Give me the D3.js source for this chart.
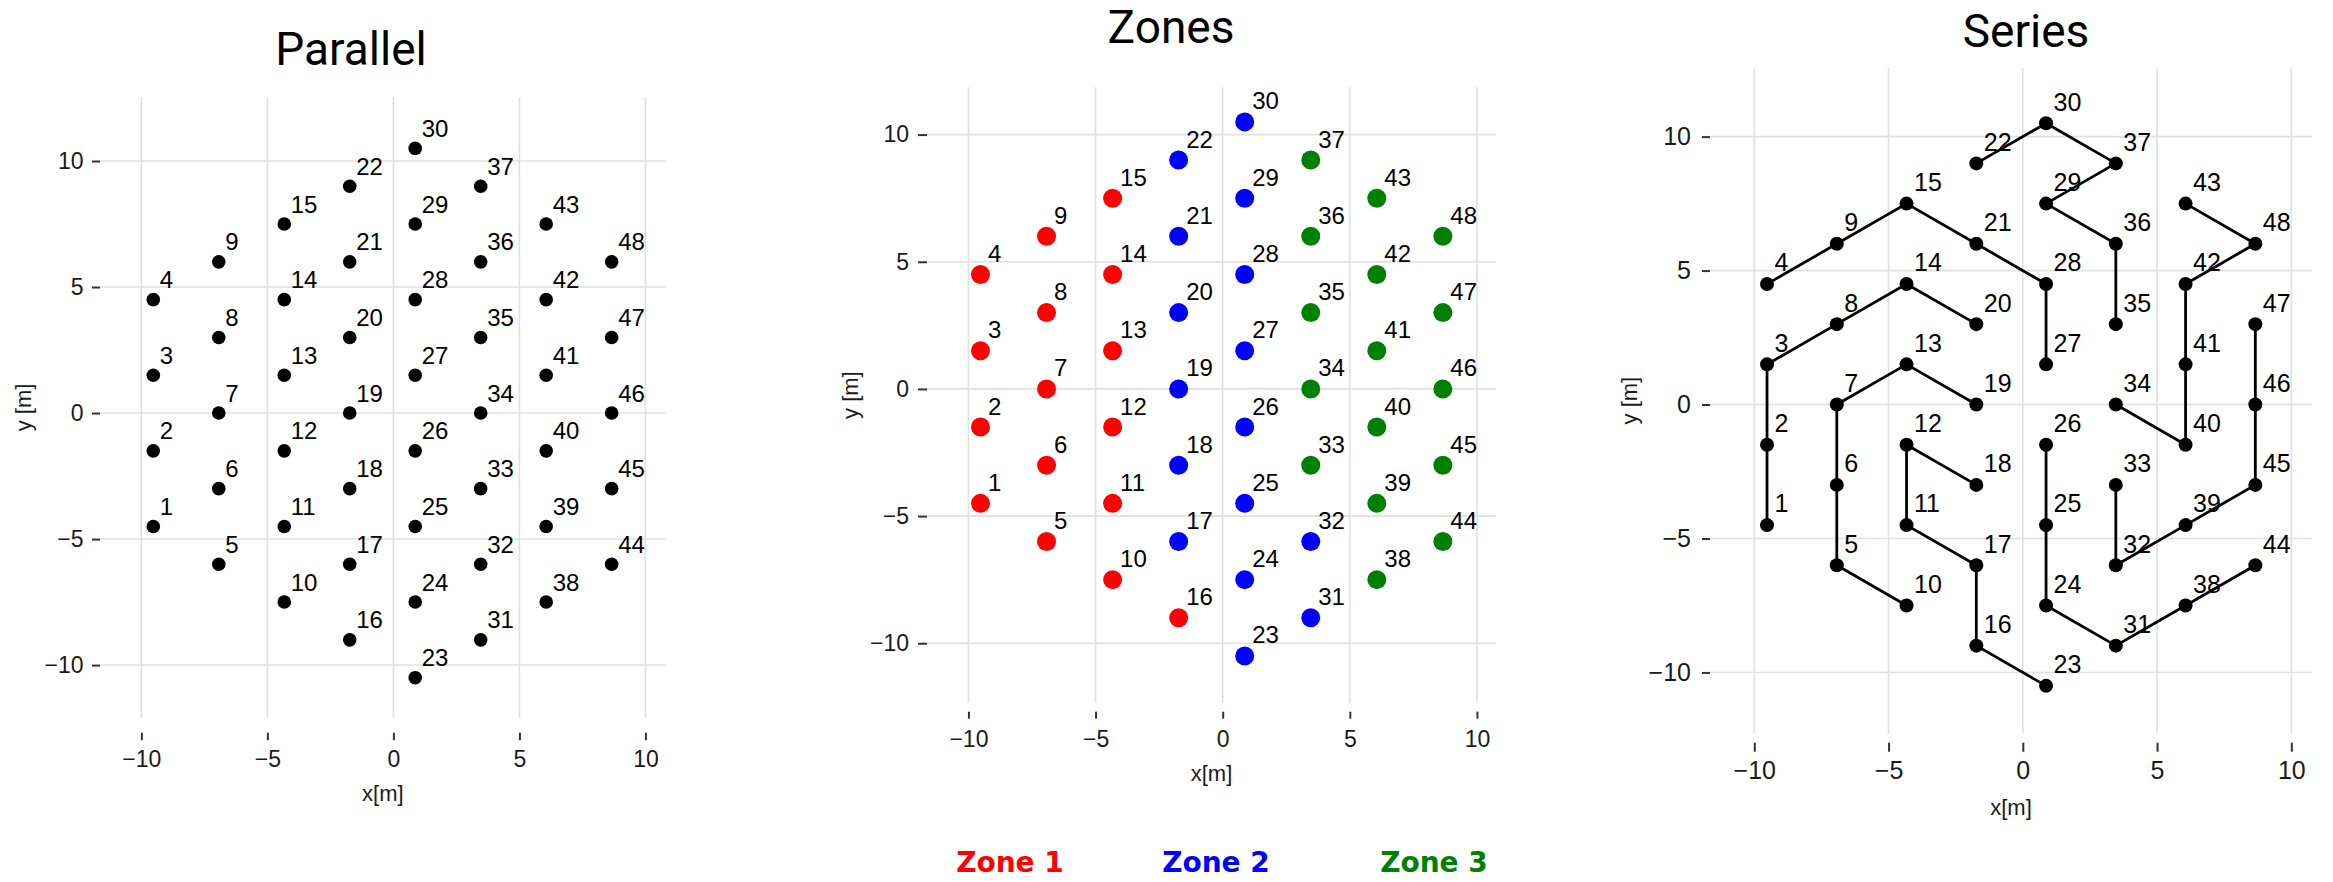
<!DOCTYPE html>
<html>
<head>
<meta charset="utf-8">
<script src="https://cdn.jsdelivr.net/npm/d3@7"></script>
<style>
  html, body { margin: 0; padding: 0; background: #fff; }
  svg { display: block; }
</style>
</head>
<body>
<svg id="chart" width="2333" height="882"></svg>
<script>
// ---------------- data ----------------
const moduleIds = [1,2,3,4,5,6,7,8,9,10,11,12,13,14,15,16,17,18,19,20,21,22,23,24,
                   25,26,27,28,29,30,31,32,33,34,35,36,37,38,39,40,41,42,43,44,45,46,47,48];
const moduleX = [
  -9.526,-9.526,-9.526,-9.526,
  -6.928,-6.928,-6.928,-6.928,-6.928,
  -4.330,-4.330,-4.330,-4.330,-4.330,-4.330,
  -1.732,-1.732,-1.732,-1.732,-1.732,-1.732,-1.732,
  0.866,0.866,0.866,0.866,0.866,0.866,0.866,0.866,
  3.464,3.464,3.464,3.464,3.464,3.464,3.464,
  6.062,6.062,6.062,6.062,6.062,6.062,
  8.660,8.660,8.660,8.660,8.660
];
const moduleY = [
  -4.5,-1.5,1.5,4.5,
  -6,-3,0,3,6,
  -7.5,-4.5,-1.5,1.5,4.5,7.5,
  -9,-6,-3,0,3,6,9,
  -10.5,-7.5,-4.5,-1.5,1.5,4.5,7.5,10.5,
  -9,-6,-3,0,3,6,9,
  -7.5,-4.5,-1.5,1.5,4.5,7.5,
  -6,-3,0,3,6
];
const moduleZone = [
  1,1,1,1,1,1,1,1,1,1,1,1,1,1,1,1,
  2,2,2,2,2,2,2,2,2,2,2,2,2,2,2,2,
  3,3,3,3,3,3,3,3,3,3,3,3,3,3,3,3
];
const seriesStrings = [
  [1,2,3,8,14,20],
  [4,9,15,21,28,27],
  [10,5,6,7,13,19],
  [23,16,17,11,12,18],
  [22,30,37,29,36,35],
  [44,38,31,24,25,26],
  [33,32,39,45,46,47],
  [34,40,41,42,48,43]
];
const zoneNames = ["Zone 1","Zone 2","Zone 3"];
const panelTitles = ["Parallel","Zones","Series"];
const tickValues = [-10,-5,0,5,10];
const xAxisTitle = "x[m]";
const yAxisTitle = "y [m]";

// ---------------- styles / layout ----------------
const zoneColors = {1:"#ff0000", 2:"#0000ff", 3:"#008000"};
const points = moduleIds.map((id,i)=>({id, x:moduleX[i], y:moduleY[i], zone:moduleZone[i]}));
const byId = new Map(points.map(p=>[p.id,p]));

const panels = [
  {title:panelTitles[0], mode:"parallel",
   xDom:[-11.64,10.8], xR:[100,665.6], yDom:[-12.1,12.54], yR:[718,97],
   r:6.8, tickFont:23, labFont:24, titleX:351, titleY:65,
   xGap:14.7, xTick:7.5, xPad:10, yTick:8, yPad:8.5,
   xTitleY:801, yTitleX:23, dx:6.5, dy:-11.5},
  {title:panelTitles[1], mode:"zones",
   xDom:[-11.63,10.75], xR:[927,1496], yDom:[-12.35,11.86], yR:[703,87.3],
   r:9.5, tickFont:23, labFont:24, titleX:1171, titleY:43,
   xGap:8.7, xTick:7, xPad:12, yTick:9, yPad:9,
   xTitleY:781, yTitleX:850, dx:7.5, dy:-12.5},
  {title:panelTitles[2], mode:"series",
   xDom:[-11.65,10.77], xR:[1710,2312], yDom:[-12.26,12.55], yR:[733,68.3],
   r:7, tickFont:25, labFont:25, titleX:2026, titleY:47,
   xGap:9.7, xTick:9, xPad:10, yTick:8, yPad:11,
   xTitleY:815, yTitleX:1629, dx:7.5, dy:-12.6}
];

const svg = d3.select("#chart");
const fmt = d => d < 0 ? "\u2212" + Math.abs(d) : String(d);
const FONT = "'Liberation Sans', Arial, Helvetica, sans-serif";

panels.forEach(P => {
  const x = d3.scaleLinear().domain(P.xDom).range(P.xR);
  const y = d3.scaleLinear().domain(P.yDom).range(P.yR);
  const g = svg.append("g");

  // grid
  const grid = g.append("g").attr("stroke","#e0e0e0").attr("stroke-width",1.6);
  grid.selectAll("line.v").data(tickValues).join("line").attr("class","v")
    .attr("x1",d=>x(d)).attr("x2",d=>x(d)).attr("y1",P.yR[1]).attr("y2",P.yR[0]);
  grid.selectAll("line.h").data(tickValues).join("line").attr("class","h")
    .attr("y1",d=>y(d)).attr("y2",d=>y(d)).attr("x1",P.xR[0]).attr("x2",P.xR[1]);

  // x axis
  const xa = g.append("g").attr("transform",`translate(0,${P.yR[0]+P.xGap})`)
    .call(d3.axisBottom(x).tickValues(tickValues).tickFormat(fmt).tickSize(P.xTick).tickPadding(P.xPad));
  // y axis
  const ya = g.append("g").attr("transform",`translate(${P.xR[0]},0)`)
    .call(d3.axisLeft(y).tickValues(tickValues).tickFormat(fmt).tickSize(P.yTick).tickPadding(P.yPad));
  [xa,ya].forEach(a=>{
    a.select(".domain").remove();
    a.selectAll(".tick line").attr("stroke","#333").attr("stroke-width",2);
    a.selectAll(".tick text").attr("fill","#1a1a1a").style("font-family",FONT).style("font-size",P.tickFont+"px");
  });

  // axis titles
  g.append("text").attr("x",(P.xR[0]+P.xR[1])/2).attr("y",P.xTitleY)
    .attr("text-anchor","middle").style("font-family",FONT).style("font-size","22px").attr("fill","#1a1a1a")
    .text(xAxisTitle);
  g.append("text").attr("transform",`translate(${P.yTitleX},${(P.yR[0]+P.yR[1])/2}) rotate(-90)`)
    .attr("text-anchor","middle").attr("dy","0.35em").style("font-family",FONT).style("font-size","22px").attr("fill","#1a1a1a")
    .text(yAxisTitle);

  // panel title
  g.append("text").attr("x",P.titleX).attr("y",P.titleY).attr("text-anchor","middle")
    .style("font-family","Roboto, 'Open Sans', sans-serif").style("font-size","46px").attr("fill","#000")
    .text(P.title);

  // series lines
  if (P.mode === "series") {
    const line = d3.line().x(d=>x(d.x)).y(d=>y(d.y));
    g.append("g").selectAll("path").data(seriesStrings).join("path")
      .attr("d", s => line(s.map(id=>byId.get(id))))
      .attr("fill","none").attr("stroke","#000").attr("stroke-width",2.8).attr("stroke-linejoin","round");
  }

  // points
  g.append("g").selectAll("circle").data(points).join("circle")
    .attr("cx",d=>x(d.x)).attr("cy",d=>y(d.y)).attr("r",P.r)
    .attr("fill",d=>P.mode==="zones" ? zoneColors[d.zone] : "#000");

  // labels
  g.append("g").selectAll("text").data(points).join("text")
    .attr("x",d=>x(d.x)+P.dx).attr("y",d=>y(d.y)+P.dy)
    .style("font-family",FONT).style("font-size",P.labFont+"px").attr("fill","#000")
    .text(d=>d.id);
});

// legend for zones
const legendX = [1010,1216,1434];
svg.append("g").selectAll("text").data(zoneNames).join("text")
  .attr("x",(d,i)=>legendX[i]).attr("y",872).attr("text-anchor","middle")
  .style("font-family","'DejaVu Sans', sans-serif").style("font-weight","bold").style("font-size","28px")
  .attr("fill",(d,i)=>zoneColors[i+1]).text(d=>d);
</script>
</body>
</html>
